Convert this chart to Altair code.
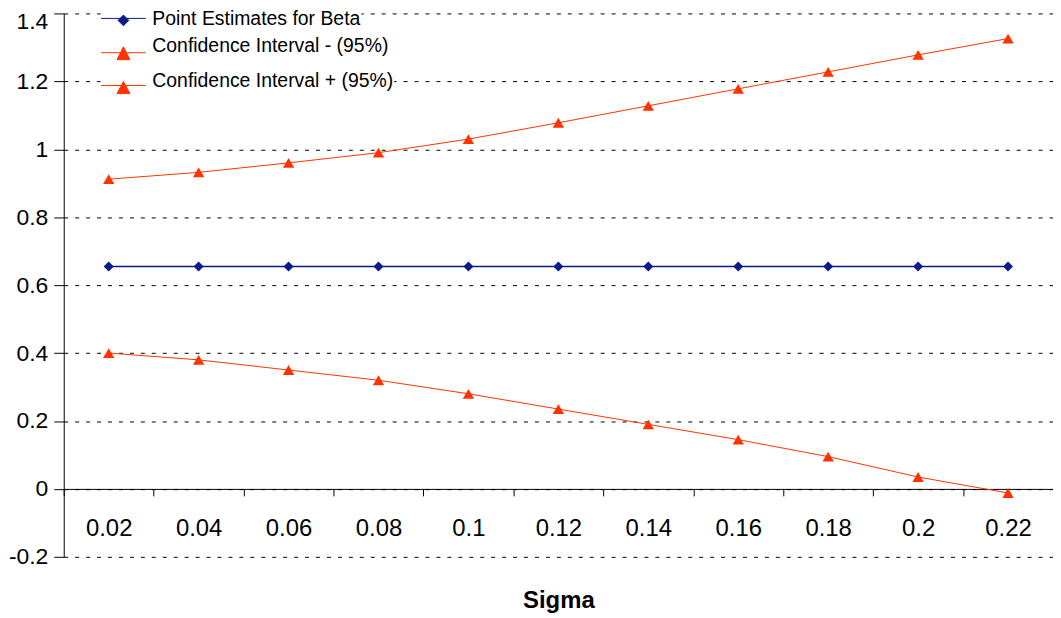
import altair as alt
import pandas as pd

# ---- data ----
sigma = [0.02, 0.04, 0.06, 0.08, 0.10, 0.12, 0.14, 0.16, 0.18, 0.20, 0.22]
point_est = [0.655, 0.655, 0.655, 0.655, 0.655, 0.655, 0.655, 0.655, 0.655, 0.655, 0.655]
ci_lower = [0.40, 0.38, 0.35, 0.32, 0.28, 0.235, 0.19, 0.145, 0.095, 0.035, -0.012]
ci_upper = [0.912, 0.932, 0.96, 0.99, 1.03, 1.078, 1.128, 1.178, 1.228, 1.278, 1.326]

series_names = ["Point Estimates for Beta", "Confidence Interval - (95%)", "Confidence Interval + (95%)"]
series_values = [point_est, ci_lower, ci_upper]
series_colors = ["#0B1A8A", "#FF3300", "#FF3300"]
series_shapes = ["diamond", "triangle-up", "triangle-up"]
series_sizes = [100, 130, 130]
series_widths = [1.5, 1, 1]

y_ticks = [-0.2, 0, 0.2, 0.4, 0.6, 0.8, 1.0, 1.2, 1.4]

# category boundaries for the tick marks (Excel category axis style)
step = sigma[1] - sigma[0]
x_vals = [round(sigma[0] - step / 2 + i * step / 2, 4) for i in range(2 * len(sigma) + 1)]

rows = []
for name, vals in zip(series_names, series_values):
    for s, v in zip(sigma, vals):
        rows.append({"sigma": s, "value": v, "series": name})
df = pd.DataFrame(rows)

FONT = "Liberation Sans"

x_enc = alt.X(
    "sigma:Q",
    scale=alt.Scale(domain=[x_vals[0], x_vals[-1]], nice=False, zero=False),
    axis=alt.Axis(
        values=x_vals,
        labelExpr="round(datum.value*100) % 2 == 0 ? '' + round(datum.value*100)/100 : ''",
        tickOpacity={"condition": {"test": "round(datum.value*100) % 2 == 1", "value": 1}, "value": 0},
        tickSize=7,
        tickColor="#000",
        domainColor="#000",
        offset=-68.25,
        grid=False,
        labelFontSize=24,
        labelFont=FONT,
        labelColor="#000",
        labelPadding=21,
        labelBaseline="top",
        title="Sigma",
        titleFont=FONT,
        titleFontSize=24,
        titleFontWeight="bold",
        titleColor="#000",
        titlePadding=48,
    ),
)

y_enc = alt.Y(
    "value:Q",
    scale=alt.Scale(domain=[-0.2, 1.4], nice=False, zero=False),
    axis=alt.Axis(
        values=y_ticks,
        labelExpr="'' + round(datum.value*10)/10",
        labelOffset={"condition": {"test": "datum.value > 1.3", "value": 8}, "value": 0},
        tickSize=10,
        tickColor="#000",
        domainColor="#000",
        grid=True,
        gridColor="#000",
        gridDash=[4, 7],
        gridWidth=1,
        labelFontSize=23,
        labelFont=FONT,
        labelColor="#000",
        labelPadding=6,
        title=None,
    ),
)

legend_paths = [
    "M-1,-0.044L1,-0.044M0,-0.196L0.24,0.044L0,0.284L-0.24,0.044Z",
    "M-1,0.31L1,0.31M0,0.044L0.29,0.62L-0.29,0.62Z",
    "M-1,0.22L1,0.22M0,0.044L0.29,0.58L-0.29,0.58Z",
]
legend_y = [-17, 9.5, 44.5]

layers = []
# draw the bottom legend entry first so upper entries sit on top
for i in [2, 1, 0]:
    name = series_names[i]
    col = series_colors[i]
    base = alt.Chart(df).transform_filter(alt.datum.series == name)
    line = base.mark_line(strokeWidth=series_widths[i], color=col).encode(
        x=x_enc,
        y=y_enc,
        color=alt.Color(
            "series:N",
            scale=alt.Scale(domain=[name], range=[col]),
            legend=alt.Legend(
                title=None,
                orient="none",
                legendX=37,
                legendY=legend_y[i],
                padding=0,
                fillColor="white",
                symbolType=legend_paths[i],
                symbolSize=2025,
                symbolFillColor=col,
                symbolStrokeWidth=1,
                labelFont=FONT,
                labelFontSize=19.5,
                labelColor="#000",
                labelOffset=6,
                labelLimit=400,
            ),
        ),
    )
    pts = base.mark_point(
        filled=True, shape=series_shapes[i], size=series_sizes[i], opacity=1, color=col
    ).encode(x=x_enc, y=y_enc)
    layers.append(alt.layer(line, pts))

chart = (
    alt.layer(*layers)
    .resolve_scale(color="independent")
    .properties(
        width=994,
        height=546,
        autosize=alt.AutoSizeParams(type="none"),
        padding={"left": 56, "top": 4, "right": 0, "bottom": 58},
        background="white",
    )
    .configure_view(stroke=None)
)

chart.save("out.html", embed_options={"renderer": "svg", "actions": False})
